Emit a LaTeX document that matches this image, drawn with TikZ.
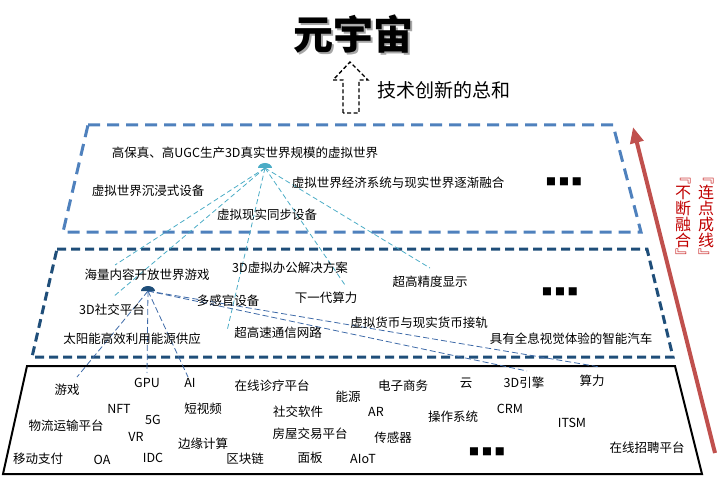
\documentclass[tikz,border=0pt]{standalone}
\usepackage{fontspec}
\setmainfont{Noto Sans CJK SC}
\newfontfamily\symfont{DejaVu Sans}
\usetikzlibrary{arrows.meta}
\definecolor{upblue}{HTML}{4F81BD}
\definecolor{midblue}{HTML}{1F4E79}
\definecolor{hubcyan}{HTML}{4BACC6}
\definecolor{linkblue}{HTML}{3E6AA8}
\definecolor{redarrow}{HTML}{C0504D}
\definecolor{redtext}{HTML}{C00000}
\tikzset{
  lbl/.style={inner sep=0pt, font=\fontsize{12.5}{15}\selectfont},
  dots/.style={inner sep=0pt, font=\symfont\fontsize{10.5}{12}\selectfont},
  uplink/.style={hubcyan, line width=0.8pt, dash pattern=on 5pt off 3pt},
  lowlink/.style={linkblue, line width=0.8pt, dash pattern=on 6pt off 3pt},
  redcol/.style={inner sep=0pt, align=center, text=redtext, font=\fontsize{16}{16}\selectfont},
}
\begin{document}
\begin{tikzpicture}[x=1pt,y=-1pt]
\useasboundingbox (0,0) rectangle (726,500);

% title with shadow
\node[inner sep=0pt, font=\fontsize{40}{44}\selectfont\bfseries] (title) at (353,35)
  {\rlap{\hspace{2pt}\raisebox{-2pt}{\textcolor{gray!70}{元宇宙}}}元宇宙};

% dashed hollow arrow
\draw[line width=1.4pt, dash pattern=on 4pt off 2.5pt]
  (343,113) -- (343,80) -- (333,80) -- (350,62) -- (368,80) -- (359,80) -- (359,113) -- cycle;
\node[inner sep=0pt, font=\fontsize{19}{22}\selectfont, anchor=west] (sum) at (377,90) {技术创新的总和};

% layers
\draw[upblue, line width=3pt, dash pattern=on 12pt off 7pt] (88,125) -- (613,125) -- (641,232) -- (63,232) -- cycle;
\draw[midblue, line width=3pt, dash pattern=on 9pt off 5pt] (57,249) -- (647,249) -- (673,357) -- (32,357) -- cycle;
\draw[black, line width=2pt] (27,366) -- (675,366) -- (702,474) -- (3,474) -- cycle;

% red arrow
\coordinate (rs) at (715,453);
\coordinate (re) at (633,127);
\draw[redarrow, line width=4pt, -{Triangle[length=16pt,width=13pt]}] (rs) -- (re);
\node[redcol] (c1) at (706,220) {﹃\\连\\点\\成\\线\\﹄};
\node[redcol] (c2) at (683,220) {﹃\\不\\断\\融\\合\\﹄};

% hubs
\coordinate (hubA) at (265,168);
\coordinate (hubB) at (148,291);
\coordinate (a1) at (115,265);
\coordinate (a2) at (113,297);
\coordinate (a3) at (227,331);
\coordinate (a4) at (345,285);
\coordinate (a5) at (430,268);
\coordinate (b1) at (77,377);
\coordinate (b2) at (147,373);
\coordinate (b3) at (188,377);
\coordinate (b4) at (527,371);
\coordinate (b5) at (600,367);
\foreach \t in {a1,a2,a3,a4,a5} \draw[uplink] (hubA) -- (\t);
\foreach \t in {b1,b2,b3,b4,b5} \draw[lowlink] (hubB) -- (\t);
\fill[hubcyan] ([xshift=-7pt]hubA) arc[start angle=180, end angle=0, x radius=7pt, y radius=5pt] -- cycle;
\fill[midblue] ([xshift=-7pt]hubB) arc[start angle=180, end angle=0, x radius=7pt, y radius=5pt] -- cycle;

% upper layer texts
\node[lbl] (u1) at (245,153) {高保真、高UGC生产3D真实世界规模的虚拟世界};
\node[lbl] (u2) at (148,191) {虚拟世界沉浸式设备};
\node[lbl] (u3) at (398,183) {虚拟世界经济系统与现实世界逐渐融合};
\node[lbl] (u4) at (267,215) {虚拟现实同步设备};
\node[dots] (u5) at (564,182) {■\hspace{3pt}■\hspace{3pt}■};

% middle layer texts
\node[lbl] (m1) at (147,275) {海量内容开放世界游戏};
\node[lbl] (m2) at (290,268) {3D虚拟办公解决方案};
\node[lbl] (m3) at (326,298) {下一代算力};
\node[lbl] (m4) at (112,310) {3D社交平台};
\node[lbl] (m5) at (228,301) {多感官设备};
\node[lbl] (m6) at (132,339) {太阳能高效利用能源供应};
\node[lbl] (m7) at (278,333) {超高速通信网路};
\node[lbl] (m8) at (430,282) {超高精度显示};
\node[lbl] (m9) at (419,323) {虚拟货币与现实货币接轨};
\node[lbl] (m10) at (571,339) {具有全息视觉体验的智能汽车};
\node[dots] (m11) at (560,292) {■\hspace{3pt}■\hspace{3pt}■};

% bottom layer texts
\node[lbl] (d1) at (67,390) {游戏};
\node[lbl] (d2) at (147,383) {GPU};
\node[lbl] (d3) at (190,383) {AI};
\node[lbl] (d4) at (272,386) {在线诊疗平台};
\node[lbl] (d5) at (348,397) {能源};
\node[lbl] (d6) at (119,409) {NFT};
\node[lbl] (d7) at (153,420) {5G};
\node[lbl] (d8) at (203,409) {短视频};
\node[lbl] (d9) at (298,412) {社交软件};
\node[lbl] (d10) at (66,426) {物流运输平台};
\node[lbl] (d11) at (136,437) {VR};
\node[lbl] (d12) at (203,444) {边缘计算};
\node[lbl] (d13) at (310,434) {房屋交易平台};
\node[lbl] (d14) at (38,459) {移动支付};
\node[lbl] (d15) at (102,460) {OA};
\node[lbl] (d16) at (153,458) {IDC};
\node[lbl] (d17) at (245,459) {区块链};
\node[lbl] (d18) at (310,458) {面板};
\node[lbl] (d19) at (363,459) {AIoT};
\node[lbl] (d20) at (403,386) {电子商务};
\node[lbl] (d21) at (466,383) {云};
\node[lbl] (d22) at (524,383) {3D引擎};
\node[lbl] (d23) at (592,381) {算力};
\node[lbl] (d24) at (376,412) {AR};
\node[lbl] (d25) at (453,417) {操作系统};
\node[lbl] (d26) at (510,409) {CRM};
\node[lbl] (d27) at (572,423) {ITSM};
\node[lbl] (d28) at (393,438) {传感器};
\node[dots] (d29) at (487,452) {■\hspace{3pt}■\hspace{3pt}■};
\node[lbl] (d30) at (647,448) {在线招聘平台};
\end{tikzpicture}
\end{document}
